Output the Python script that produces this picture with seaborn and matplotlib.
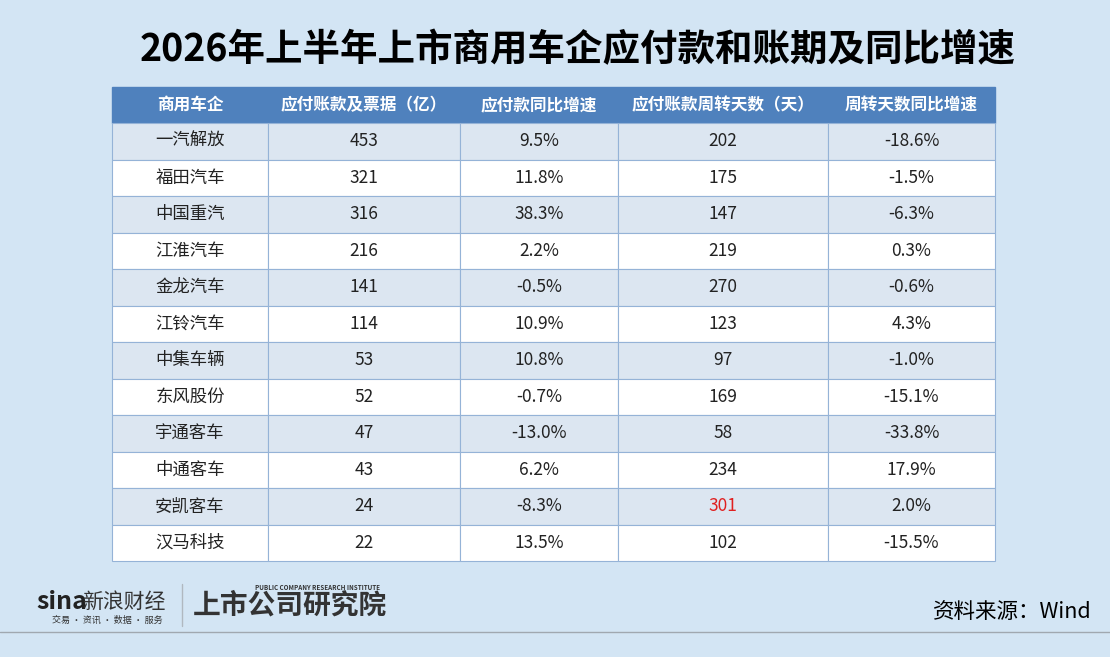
import matplotlib
matplotlib.use("Agg")
import matplotlib.pyplot as plt
import seaborn as sns
from matplotlib.patches import Rectangle

sns.set_theme(style="white")
plt.rcParams['font.family'] = ['Noto Sans CJK SC', 'DejaVu Sans']

title = "2026年上半年上市商用车企应付款和账期及同比增速"
headers = ["商用车企", "应付账款及票据（亿）", "应付款同比增速", "应付账款周转天数（天）", "周转天数同比增速"]
companies = ["一汽解放", "福田汽车", "中国重汽", "江淮汽车", "金龙汽车", "江铃汽车",
             "中集车辆", "东风股份", "宇通客车", "中通客车", "安凯客车", "汉马科技"]
payables = [453, 321, 316, 216, 141, 114, 53, 52, 47, 43, 24, 22]
payables_yoy = ["9.5%", "11.8%", "38.3%", "2.2%", "-0.5%", "10.9%", "10.8%", "-0.7%",
                "-13.0%", "6.2%", "-8.3%", "13.5%"]
turnover_days = [202, 175, 147, 219, 270, 123, 97, 169, 58, 234, 301, 102]
days_yoy = ["-18.6%", "-1.5%", "-6.3%", "0.3%", "-0.6%", "4.3%", "-1.0%", "-15.1%",
            "-33.8%", "17.9%", "2.0%", "-15.5%"]

bg = "#d3e5f4"
fig = plt.figure(figsize=(11.1, 6.57), dpi=100, facecolor=bg)
ax = fig.add_axes([0, 0, 1, 1])
ax.set_xlim(0, 1110)
ax.set_ylim(657, 0)
ax.axis("off")
ax.set_facecolor(bg)

ax.text(578, 50, title, ha="center", va="center", fontsize=27, fontweight="heavy", color="black")

cols = [112, 268, 460, 618, 828, 995]
top, hh, rh = 87, 36, 36.5
ax.add_patch(Rectangle((cols[0], top), cols[-1] - cols[0], hh, color="#4f81bd"))
for j, h in enumerate(headers):
    ax.text((cols[j] + cols[j + 1]) / 2, top + hh / 2, h, ha="center", va="center",
            color="white", fontsize=12, fontweight="bold")

for i, c in enumerate(companies):
    y0 = top + hh + i * rh
    fc = "#dce6f1" if i % 2 == 0 else "white"
    for j in range(5):
        ax.add_patch(Rectangle((cols[j], y0), cols[j + 1] - cols[j], rh, facecolor=fc,
                               edgecolor="#95b3d7", linewidth=0.8))
    vals = [c, str(payables[i]), payables_yoy[i], str(turnover_days[i]), days_yoy[i]]
    for j, v in enumerate(vals):
        color = "#e02020" if (j == 3 and turnover_days[i] == max(turnover_days)) else "#222222"
        ax.text((cols[j] + cols[j + 1]) / 2, y0 + rh / 2, v, ha="center", va="center",
                fontsize=12.5, color=color)

# footer logos
ax.plot([0, 1110], [632, 632], color="#a0a8b0", lw=1)
ax.text(36, 602, "sina", fontsize=18, fontweight="bold", fontstyle="italic", color="#222222", va="center")
ax.text(82, 602, "新浪财经", fontsize=15, color="#333333", va="center")
ax.text(52, 620, "交易 · 资讯 · 数据 · 服务", fontsize=6.5, color="#333333", va="center")
ax.plot([182, 182], [584, 626], color="#b0b8c0", lw=1)
ax.text(193, 606, "上市公司研究院", fontsize=20, fontweight="heavy", fontstyle="italic", color="#333333", va="center")
ax.text(255, 588, "PUBLIC COMPANY RESEARCH INSTITUTE", fontsize=4.5, fontweight="bold", color="#333333", va="center")
ax.text(1092, 612, "资料来源：Wind", fontsize=15.5, ha="right", va="center", color="black")

fig.savefig("out.png", dpi=100, facecolor=bg)
